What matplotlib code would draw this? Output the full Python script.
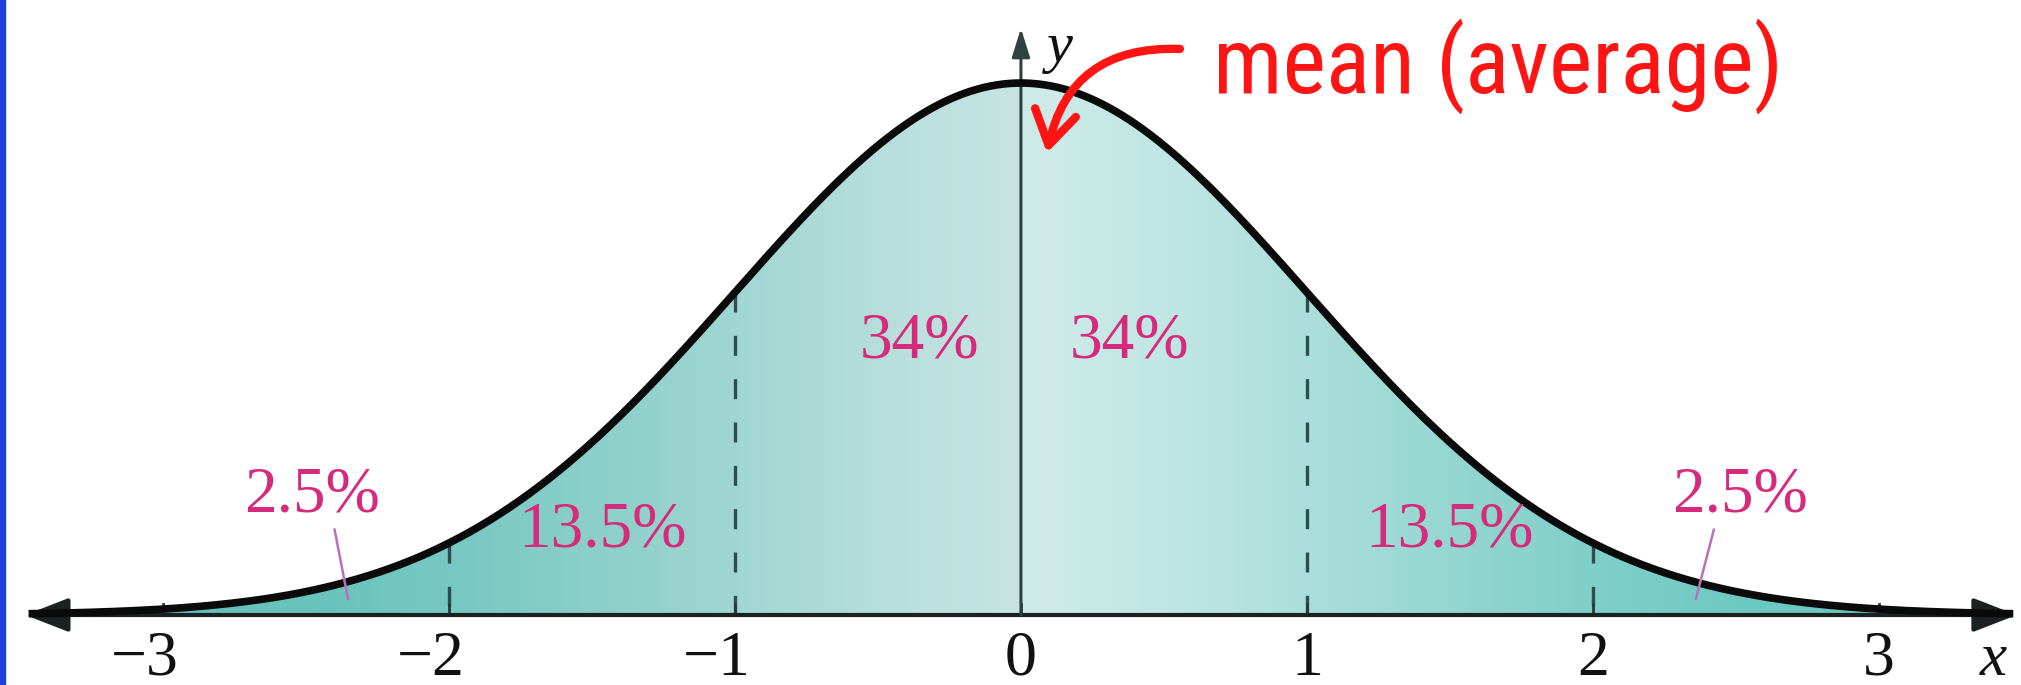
import numpy as np
import matplotlib
matplotlib.use("Agg")
import matplotlib.pyplot as plt
from matplotlib.patches import Polygon, Rectangle, FancyArrowPatch
from matplotlib import font_manager

# ---------------- data ----------------
mean = 0.0
sd = 1.0
tick_values = [-3, -2, -1, 0, 1, 2, 3]
tick_labels = ["\u22123", "\u22122", "\u22121", "0", "1", "2", "3"]
dashed_at = [-2, -1, 1, 2]
pct_labels = ["2.5%", "13.5%", "34%", "34%", "13.5%", "2.5%"]
annotation_text = "mean (average)"

# ---------------- layout ----------------
pct_x = [-2.479, -1.462, -0.353, 0.381, 1.50, 2.514]
pct_y = [0.0892, 0.063, 0.2047, 0.2047, 0.063, 0.0892]
x_end = 3.47

fig = plt.figure(figsize=(20.21, 6.85), dpi=100)
ax = fig.add_axes([0, 0, 1, 1])
ax.set_xlim(-3.570, 3.497)
ax.set_ylim(-0.0525, 0.4612)
ax.axis("off")

def pdf(x):
    return np.exp(-0.5 * ((x - mean) / sd) ** 2) / (sd * np.sqrt(2 * np.pi))

xs = np.linspace(-x_end, x_end, 1200)
ys = pdf(xs)

# gradient fill clipped to the curve
gx = np.linspace(-3.6, 3.6, 800)
stops_x = np.array([0.0, 0.5, 1.0, 1.5, 2.0, 2.5, 3.6])
stops_c = np.array([
    [206, 235, 233],
    [190, 229, 226],
    [168, 221, 217],
    [146, 213, 208],
    [125, 206, 201],
    [108, 200, 194],
    [100, 196, 190],
]) / 255.0
d = np.abs(gx - 0.08)
cols = np.stack([np.interp(d, stops_x, stops_c[:, k]) for k in range(3)], axis=-1)
left = gx < 0
cols[left] = cols[left] * 0.975
img = np.tile(cols[None, :, :], (2, 1, 1))
poly = Polygon(np.column_stack([np.r_[xs, xs[::-1]], np.r_[ys, np.zeros_like(ys)]]),
               closed=True, facecolor="none", edgecolor="none", transform=ax.transData)
ax.add_patch(poly)
im = ax.imshow(img, extent=[-3.6, 3.6, 0, 0.42], aspect="auto", origin="lower",
               interpolation="bilinear", zorder=1)
im.set_clip_path(poly)

# dashed lines at +-1, +-2
for v in dashed_at:
    ax.plot([v, v], [pdf(v), 0], color="#2c4f4d", lw=2.4, dashes=(6.0, 7.0), zorder=3)

# small ticks
for v in tick_values:
    ax.plot([v, v], [0, 0.008], color="#2a3a3a", lw=2, zorder=3)

# x axis with arrows
ax.annotate("", xy=(-x_end - 0.012, 0), xytext=(x_end + 0.012, 0),
            arrowprops=dict(arrowstyle="<|-|>,head_length=0.9,head_width=0.35",
                            lw=3, color="#1c2222", shrinkA=0, shrinkB=0,
                            mutation_scale=30), zorder=4)
# y axis
ax.annotate("", xy=(0, 0.440), xytext=(0, 0),
            arrowprops=dict(arrowstyle="-|>,head_length=0.8,head_width=0.25",
                            lw=2.2, color="#2e4242", shrinkA=0, shrinkB=0,
                            mutation_scale=22), zorder=4)

# curve
ax.plot(xs, ys, color="#0a0a0a", lw=5.5, solid_capstyle="butt", zorder=5)

serif = "Liberation Serif"
tick_fs = 46
# tick labels: digit centred under tick
for v, lab in zip(tick_values, tick_labels):
    if lab.startswith("\u2212"):
        ax.annotate(lab, xy=(v, -0.0337), xytext=(tick_fs * 0.25, 0),
                    textcoords="offset points", ha="right", va="center",
                    fontsize=tick_fs, family=serif, color="#111111")
    else:
        ax.text(v, -0.0337, lab, ha="center", va="center", fontsize=tick_fs,
                family=serif, color="#111111")

ax.text(3.40, -0.0337, "x", ha="center", va="center", fontsize=44,
        family=serif, style="italic", color="#111111")
ax.text(0.136, 0.425, "y", ha="center", va="center", fontsize=42,
        family=serif, style="italic", color="#111111")

pink = "#d62a7c"
for x, y, lab in zip(pct_x, pct_y, pct_labels):
    ax.text(x, y, lab, ha="center", va="center", fontsize=47, family=serif,
            color=pink, zorder=6)

# pointer lines for the 2.5% tails
ax.plot([-2.40, -2.353], [0.064, 0.012], color="#b772b8", lw=1.8, zorder=6)
ax.plot([2.423, 2.360], [0.064, 0.012], color="#b772b8", lw=1.8, zorder=6)

# handwritten red annotation
names = {f.name for f in font_manager.fontManager.ttflist}
hand_font = "DejaVu Sans"
for cand in ["Roboto Condensed", "Liberation Sans Narrow", "Open Sans Condensed"]:
    if cand in names:
        hand_font = cand
        break
t = ax.text(0.672, 0.392, annotation_text, ha="left", va="baseline", fontsize=50,
            family=hand_font, color="#ff1414", zorder=7)
fig.canvas.draw()
w = t.get_window_extent().width
t.set_fontsize(50 * 570.0 / w)

arr = FancyArrowPatch((0.556, 0.4245), (0.091, 0.3465),
                      connectionstyle="arc3,rad=0.42",
                      arrowstyle="->,head_length=0.8,head_width=0.5",
                      mutation_scale=30, lw=6, color="#ff1414", zorder=7,
                      capstyle="round", joinstyle="round", shrinkA=0, shrinkB=0)
ax.add_patch(arr)

# blue frame edge on the left
fig.patches.append(Rectangle((0, 0), 5 / 2021, 1, transform=fig.transFigure,
                             color="#1d3fe0", zorder=10))

fig.savefig("out.png", dpi=100)
